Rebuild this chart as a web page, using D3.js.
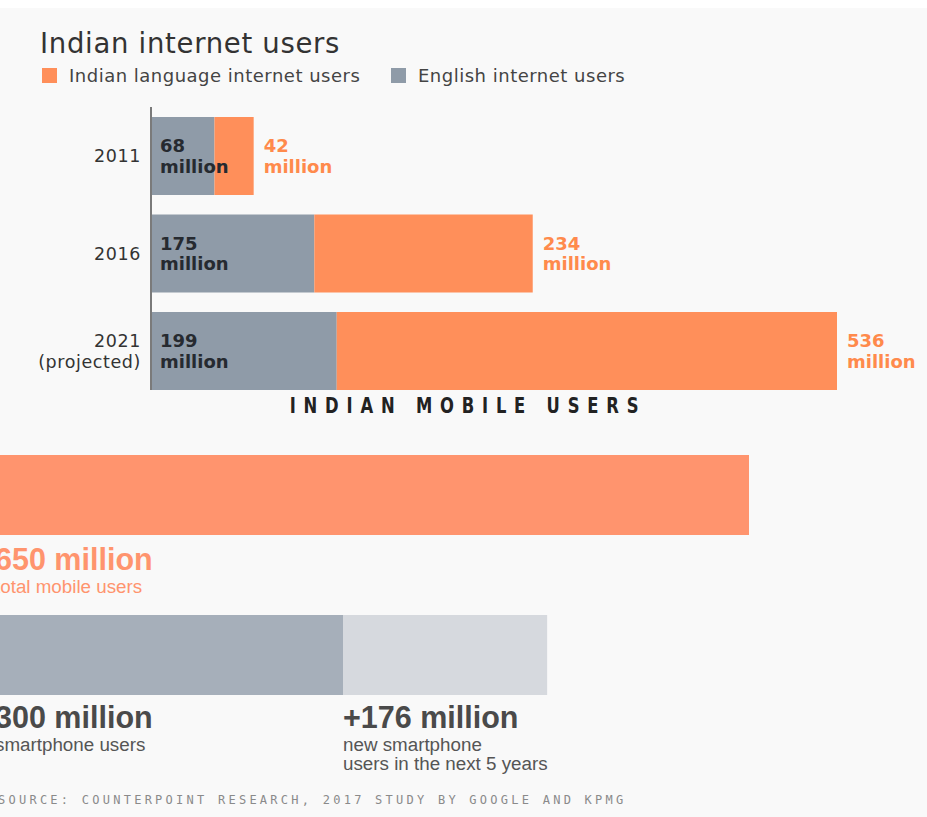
<!DOCTYPE html>
<html>
<head>
<meta charset="utf-8">
<script src="https://cdn.jsdelivr.net/npm/d3@7/dist/d3.min.js"></script>
<style>
  html, body { margin: 0; padding: 0; background: #ffffff; }
  svg { display: block; font-family: "DejaVu Sans", "Liberation Sans", Arial, sans-serif; }
</style>
</head>
<body>
<svg id="chart" width="927" height="817"></svg>
<script>
// Internet users by language (millions)
const years = ["2011", "2016", "2021"];
const yearLabels = [["2011"], ["2016"], ["2021", "(projected)"]];
const englishUsers = [68, 175, 199];
const indianLangUsers = [42, 234, 536];
const legendLabels = ["Indian language internet users", "English internet users"];

// Mobile users (millions)
const totalMobile = 650;
const smartphoneUsers = 300;
const newSmartphone = 176;

const ORANGE = "#ff8f5a";
const ORANGE_TEXT = "#ff8a4c";
const GRAY = "#8f9ba8";
const ORANGE_B = "#ff946e";
const GRAY_B = "#a6afba";
const LIGHT_B = "#d6d9de";
const SANS = "'Liberation Sans', Arial, sans-serif";

const svg = d3.select("#chart");

// panel background
svg.append("rect").attr("x", 0).attr("y", 8).attr("width", 927).attr("height", 809).attr("fill", "#f9f9f9");

// title
svg.append("text").attr("x", 40).attr("y", 53)
  .attr("font-size", 27.5).attr("letter-spacing", 0.7).attr("fill", "#333").text("Indian internet users");

// legend
const legend = svg.append("g");
const legendColors = [ORANGE, GRAY];
const legendX = [42, 391];
legendLabels.forEach((lbl, i) => {
  legend.append("rect").attr("x", legendX[i]).attr("y", 68).attr("width", 15).attr("height", 15).attr("fill", legendColors[i]);
  legend.append("text").attr("x", legendX[i] + 27).attr("y", 82)
    .attr("font-size", 18).attr("letter-spacing", 0.5).attr("fill", "#444").text(lbl);
});

// stacked bars
const rows = years.map((y, i) => ({ year: y, label: yearLabels[i], en: englishUsers[i], ind: indianLangUsers[i] }));
const x = d3.scaleLinear()
  .domain([0, d3.max(rows, d => d.en + d.ind)])
  .range([151, 837]);
const y = d3.scaleBand().domain(years).range([117, 390]).paddingInner(0.2);

const g = svg.append("g");
g.selectAll("rect.en").data(rows).join("rect")
  .attr("class", "en")
  .attr("x", x(0)).attr("y", d => y(d.year))
  .attr("width", d => x(d.en) - x(0)).attr("height", y.bandwidth())
  .attr("fill", GRAY);
g.selectAll("rect.ind").data(rows).join("rect")
  .attr("class", "ind")
  .attr("x", d => x(d.en)).attr("y", d => y(d.year))
  .attr("width", d => x(d.en + d.ind) - x(d.en)).attr("height", y.bandwidth())
  .attr("fill", ORANGE);

// axis line
svg.append("line").attr("x1", x(0)).attr("x2", x(0)).attr("y1", 107).attr("y2", 390)
  .attr("stroke", "#7a7a7a").attr("stroke-width", 2);

// year labels
rows.forEach(d => {
  const cy = y(d.year) + y.bandwidth() / 2;
  const n = d.label.length;
  d.label.forEach((t, k) => {
    svg.append("text").attr("x", 141).attr("y", cy + 6 + (k - (n - 1) / 2) * 21)
      .attr("text-anchor", "end").attr("font-size", 17.5).attr("letter-spacing", 0.6)
      .attr("fill", "#333").text(t);
  });
});

// value labels
rows.forEach(d => {
  const cy = y(d.year) + y.bandwidth() / 2;
  [[x(0) + 9, d.en, "#262a30"], [x(d.en + d.ind) + 10, d.ind, ORANGE_TEXT]].forEach(([lx, v, c]) => {
    const t = svg.append("text").attr("x", lx).attr("y", cy - 4)
      .attr("font-size", 18).attr("font-weight", 700).attr("fill", c);
    t.append("tspan").attr("x", lx).text(v);
    t.append("tspan").attr("x", lx).attr("dy", 20.5).text("million");
  });
});

// section heading, horizontally squeezed for a condensed look
svg.append("text")
  .attr("transform", "translate(468,413) scale(0.78,1)")
  .attr("text-anchor", "middle")
  .attr("font-size", 21).attr("font-weight", 700).attr("letter-spacing", 10)
  .attr("fill", "#222").text("INDIAN MOBILE USERS");

// mobile users bars
const xm = d3.scaleLinear().domain([0, totalMobile]).range([-5, 749]);
svg.append("rect").attr("x", xm(0)).attr("y", 455).attr("width", xm(totalMobile) - xm(0)).attr("height", 80).attr("fill", ORANGE_B);
svg.append("rect").attr("x", xm(0)).attr("y", 615).attr("width", xm(smartphoneUsers) - xm(0)).attr("height", 80).attr("fill", GRAY_B);
svg.append("rect").attr("x", xm(smartphoneUsers)).attr("y", 615)
  .attr("width", xm(smartphoneUsers + newSmartphone) - xm(smartphoneUsers)).attr("height", 80).attr("fill", LIGHT_B);

function bigLabel(px, py, head, lines, color, subColor) {
  svg.append("text").attr("x", px).attr("y", py).style("font-family", SANS)
    .attr("font-size", 30.5).attr("font-weight", 700).attr("fill", color).text(head);
  lines.forEach((l, i) => {
    svg.append("text").attr("x", px).attr("y", py + 23 + i * 18.5).style("font-family", SANS)
      .attr("font-size", 18.8).attr("fill", subColor).text(l);
  });
}
bigLabel(xm(0), 570, totalMobile + " million", ["total mobile users"], ORANGE_B, ORANGE_B);
bigLabel(xm(0), 728, smartphoneUsers + " million", ["smartphone users"], "#4a4a4a", "#555");
bigLabel(xm(smartphoneUsers), 728, "+" + newSmartphone + " million", ["new smartphone", "users in the next 5 years"], "#4a4a4a", "#555");

// source line
svg.append("text").attr("x", -2).attr("y", 804)
  .style("font-family", "'DejaVu Sans Mono', 'Liberation Mono', monospace")
  .attr("font-size", 12).attr("letter-spacing", 3.25).attr("fill", "#8a8a8a")
  .text("SOURCE: COUNTERPOINT RESEARCH, 2017 STUDY BY GOOGLE AND KPMG");
</script>
</body>
</html>
